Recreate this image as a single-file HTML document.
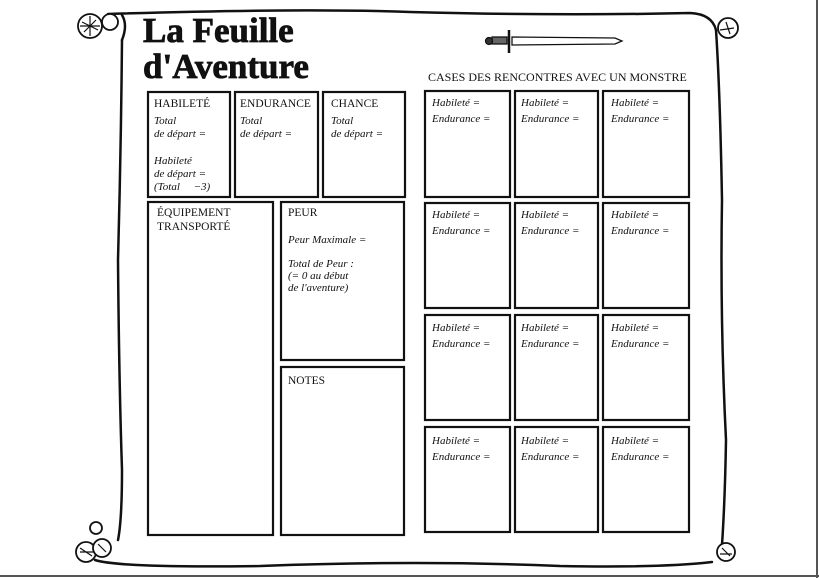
<!DOCTYPE html>
<html><head><meta charset="utf-8"><style>
html,body{margin:0;padding:0;background:#fff;}
svg{display:block}
.l{font-family:"Liberation Serif",serif;font-size:11.5px;fill:#111}
.i{font-family:"Liberation Serif",serif;font-style:italic;font-size:11px;fill:#111}
.t{font-family:"Liberation Serif",serif;font-weight:bold;font-size:35px;fill:#111;stroke:#111;stroke-width:0.8}
</style></head><body>
<svg width="819" height="578" viewBox="0 0 819 578" xmlns="http://www.w3.org/2000/svg">
<rect width="819" height="578" fill="#fff"/>
<line x1="817" y1="0" x2="817" y2="578" stroke="#555" stroke-width="2"/>
<line x1="0" y1="576" x2="819" y2="576" stroke="#555" stroke-width="2"/>
<g fill="none" stroke="#111" stroke-width="2.5" stroke-linecap="round">
<path d="M108,14 Q300,8 410,12 Q560,16 690,13 Q712,14 716,30"/>
<path d="M716,30 Q720,90 722,200 Q720,320 726,440 Q725,500 722,545"/>
<path d="M95,560 Q120,568 260,566 Q420,560 560,566 Q660,568 712,562"/>
<path d="M122,40 Q121,150 118,260 Q119,380 122,470 Q122,520 118,540"/>
<path d="M122,40 Q128,25 122,15"/>
</g>
<g fill="#fff" stroke="#111" stroke-width="1.8">
<circle cx="90" cy="26" r="12"/><circle cx="110" cy="22" r="8"/>
<circle cx="728" cy="28" r="10"/>
<circle cx="86" cy="552" r="10"/><circle cx="102" cy="548" r="9"/><circle cx="96" cy="528" r="6"/>
<circle cx="726" cy="552" r="9"/>
</g>
<g stroke="#111" stroke-width="1.2" fill="none">
<path d="M82,22 l16,8 M84,32 l12,-12 M80,26 h20 M90,16 v20 M726,22 l4,12 M720,30 l14,-2 M80,548 l12,8 M98,544 l8,8 M80,552 h14 M722,548 l8,8 M720,554 h12"/>
</g>
<text x="143" y="42" class="t">La Feuille</text>
<text x="143" y="78" class="t">d'Aventure</text>
<g stroke="#111" fill="#fff" stroke-width="1.3">
<path d="M512,37 L615,38 L622,41 L615,44 L512,45 Z"/>
<rect x="492" y="37" width="15" height="7" fill="#666"/>
<circle cx="489" cy="41" r="3.5" fill="#333"/>
<line x1="509" y1="30" x2="509" y2="53" stroke-width="2.5"/>
</g>
<text x="428" y="81" class="l" style="font-size:12px">CASES DES RENCONTRES AVEC UN MONSTRE</text>
<g fill="none" stroke="#111" stroke-width="2.2">
<rect x="148" y="92" width="82" height="105"/>
<rect x="235" y="92" width="83" height="105"/>
<rect x="323" y="92" width="82" height="105"/>
<rect x="148" y="202" width="125" height="333"/>
<rect x="281" y="202" width="123" height="158"/>
<rect x="281" y="367" width="123" height="168"/>
</g>
<text x="154" y="107" class="l">HABILETÉ</text>
<text x="154" y="124" class="i">Total</text>
<text x="154" y="137" class="i">de départ =</text>
<text x="154" y="164" class="i">Habileté</text>
<text x="154" y="177" class="i">de départ =</text>
<text x="154" y="190" class="i">(Total &#160;&#160;&#160;&#160;−3)</text>
<text x="240" y="107" class="l">ENDURANCE</text>
<text x="240" y="124" class="i">Total</text>
<text x="240" y="137" class="i">de départ =</text>
<text x="331" y="107" class="l">CHANCE</text>
<text x="331" y="124" class="i">Total</text>
<text x="331" y="137" class="i">de départ =</text>
<text x="157" y="216" class="l">ÉQUIPEMENT</text>
<text x="157" y="230" class="l">TRANSPORTÉ</text>
<text x="288" y="216" class="l">PEUR</text>
<text x="288" y="243" class="i">Peur Maximale =</text>
<text x="288" y="267" class="i">Total de Peur :</text>
<text x="288" y="279" class="i">(= 0 au début</text>
<text x="288" y="291" class="i">de l'aventure)</text>
<text x="288" y="384" class="l">NOTES</text>
<g fill="none" stroke="#111" stroke-width="2.2">
<rect x="425" y="91" width="85" height="106"/><rect x="515" y="91" width="83" height="106"/><rect x="603" y="91" width="86" height="106"/>
<rect x="425" y="203" width="85" height="105"/><rect x="515" y="203" width="83" height="105"/><rect x="603" y="203" width="86" height="105"/>
<rect x="425" y="315" width="85" height="105"/><rect x="515" y="315" width="83" height="105"/><rect x="603" y="315" width="86" height="105"/>
<rect x="425" y="427" width="85" height="105"/><rect x="515" y="427" width="83" height="105"/><rect x="603" y="427" width="86" height="105"/>
</g>
<text x="432" y="106" class="i">Habileté =</text><text x="432" y="122" class="i">Endurance =</text>
<text x="521" y="106" class="i">Habileté =</text><text x="521" y="122" class="i">Endurance =</text>
<text x="611" y="106" class="i">Habileté =</text><text x="611" y="122" class="i">Endurance =</text>
<text x="432" y="218" class="i">Habileté =</text><text x="432" y="234" class="i">Endurance =</text>
<text x="521" y="218" class="i">Habileté =</text><text x="521" y="234" class="i">Endurance =</text>
<text x="611" y="218" class="i">Habileté =</text><text x="611" y="234" class="i">Endurance =</text>
<text x="432" y="331" class="i">Habileté =</text><text x="432" y="347" class="i">Endurance =</text>
<text x="521" y="331" class="i">Habileté =</text><text x="521" y="347" class="i">Endurance =</text>
<text x="611" y="331" class="i">Habileté =</text><text x="611" y="347" class="i">Endurance =</text>
<text x="432" y="444" class="i">Habileté =</text><text x="432" y="460" class="i">Endurance =</text>
<text x="521" y="444" class="i">Habileté =</text><text x="521" y="460" class="i">Endurance =</text>
<text x="611" y="444" class="i">Habileté =</text><text x="611" y="460" class="i">Endurance =</text>
</svg>
</body></html>
